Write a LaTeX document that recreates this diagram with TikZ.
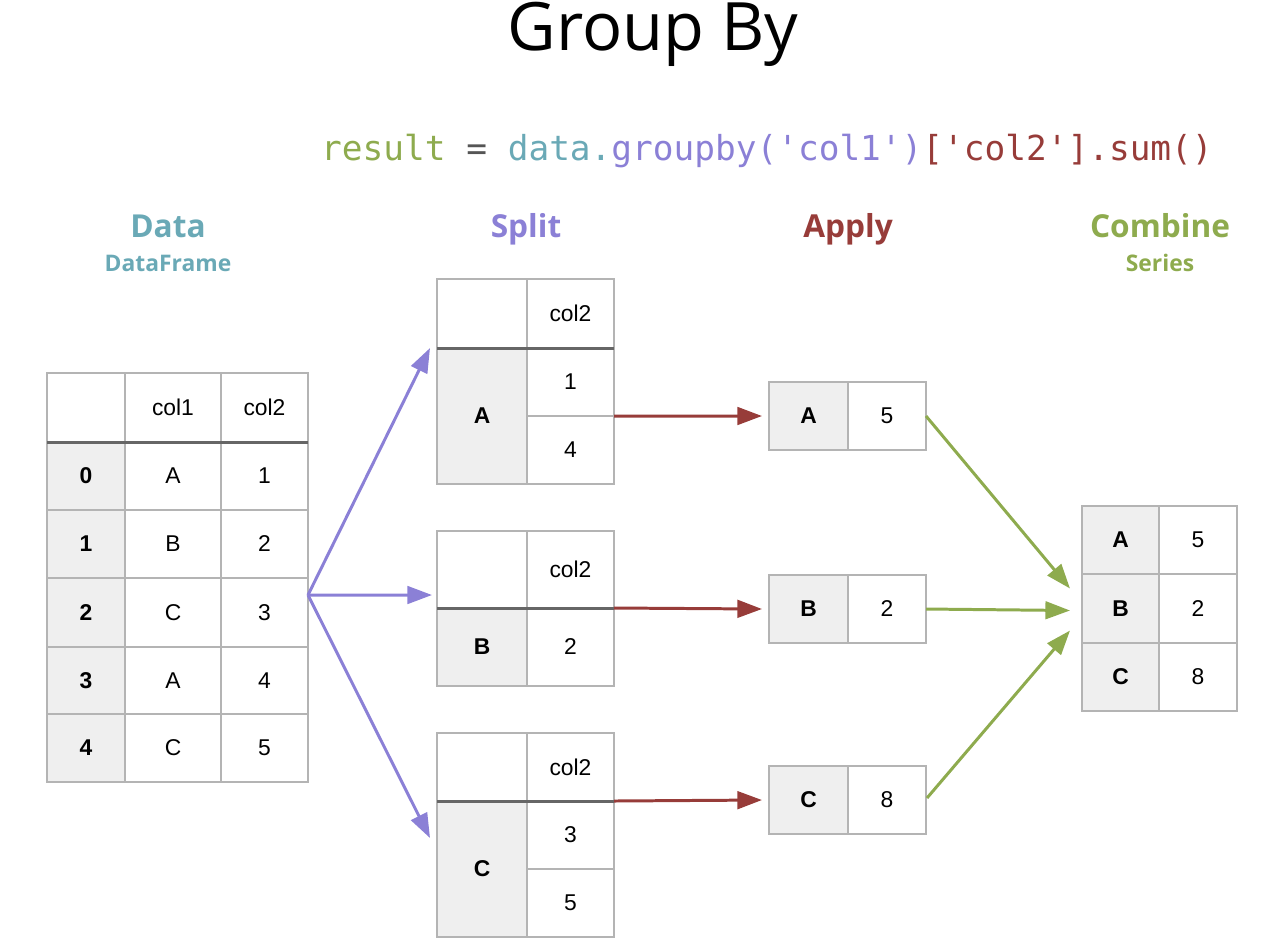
\documentclass[tikz,border=0pt]{standalone}
\usepackage{fontspec}
\setmainfont{Liberation Sans}
\newfontfamily\titlefont{Open Sans}
\newfontfamily\headfont{Open Sans}
\newfontfamily\codefont{DejaVu Sans Mono}
\usetikzlibrary{arrows.meta,calc}

\definecolor{gridgray}{HTML}{B4B4B4}
\definecolor{idxgray}{HTML}{EFEFEF}
\definecolor{rulegray}{HTML}{666666}
\definecolor{cteal}{HTML}{6AA9B6}
\definecolor{cpurple}{HTML}{8B80D6}
\definecolor{cred}{HTML}{973C39}
\definecolor{cgreen}{HTML}{8EAB4E}
\definecolor{ceq}{HTML}{555555}

\tikzset{
  cellbox/.style={draw=gridgray, line width=0.85pt, fill=white, inner sep=0pt,
    outer sep=0pt, text=black, font=\fontsize{13}{15}\selectfont},
  idx/.style={fill=idxgray, font=\fontsize{13}{15}\selectfont\bfseries},
  headrule/.style={draw=rulegray, line width=1.7pt},
  flow/.style={line width=1.7pt, -{Triangle[length=14pt,width=10pt]}},
  heading/.style={anchor=base, font=\headfont\bfseries\fontsize{18}{20}\selectfont},
  subheading/.style={anchor=base, font=\headfont\bfseries\fontsize{13}{15}\selectfont},
}

% \tcell{name}{x1}{y1}{x2}{y2}{style}{text}
\newcommand\tcell[7]{%
  \pgfmathsetmacro\cw{(#4-#2)*0.02}%
  \pgfmathsetmacro\ch{(#5-#3)*0.02}%
  \node[cellbox,#6,minimum width=\cw cm,minimum height=\ch cm] (#1)
    at ({(#2+#4)/2},{(#3+#5)/2}) {#7};}

\begin{document}
\begin{tikzpicture}[x=0.02cm,y=-0.02cm]
\useasboundingbox (0,0) rectangle (1270,948);

% title and code line
\node[anchor=base, font=\titlefont\fontsize{38}{42}\selectfont] (title) at (653,50) {Group By};
\node[anchor=base west, font=\codefont\fontsize{19.6}{24}\selectfont] (code) at (315,160)
  {\textcolor{cgreen}{result} \textcolor{ceq}{=} \textcolor{cteal}{data.}\textcolor{cpurple}{groupby('col1')}\textcolor{cred}{['col2'].sum()}};

% column headings
\node[heading, text=cteal] (hdata) at (168,237) {Data};
\node[subheading, text=cteal] (hdf) at (168,271) {DataFrame};
\node[heading, text=cpurple] (hsplit) at (526,237) {Split};
\node[heading, text=cred] (happly) at (848,237) {Apply};
\node[heading, text=cgreen] (hcomb) at (1160,237) {Combine};
\node[subheading, text=cgreen] (hser) at (1160,271) {Series};

% data frame
\tcell{d-h0}{47}{373}{125}{442}{}{}
\tcell{d-h1}{125}{373}{221}{442}{}{col1}
\tcell{d-h2}{221}{373}{308}{442}{}{col2}
\tcell{d-i0}{47}{442}{125}{510}{idx}{0}
\tcell{d-a0}{125}{442}{221}{510}{}{A}
\tcell{d-b0}{221}{442}{308}{510}{}{1}
\tcell{d-i1}{47}{510}{125}{578}{idx}{1}
\tcell{d-a1}{125}{510}{221}{578}{}{B}
\tcell{d-b1}{221}{510}{308}{578}{}{2}
\tcell{d-i2}{47}{578}{125}{647}{idx}{2}
\tcell{d-a2}{125}{578}{221}{647}{}{C}
\tcell{d-b2}{221}{578}{308}{647}{}{3}
\tcell{d-i3}{47}{647}{125}{714}{idx}{3}
\tcell{d-a3}{125}{647}{221}{714}{}{A}
\tcell{d-b3}{221}{647}{308}{714}{}{4}
\tcell{d-i4}{47}{714}{125}{782}{idx}{4}
\tcell{d-a4}{125}{714}{221}{782}{}{C}
\tcell{d-b4}{221}{714}{308}{782}{}{5}
\draw[headrule] (d-h0.south west) -- (d-h2.south east);

% split groups
\tcell{sA-h0}{437}{279}{527}{348}{}{}
\tcell{sA-h1}{527}{279}{614}{348}{}{col2}
\tcell{sA-i}{437}{348}{527}{484}{idx}{A}
\tcell{sA-v0}{527}{348}{614}{416}{}{1}
\tcell{sA-v1}{527}{416}{614}{484}{}{4}
\draw[headrule] (sA-h0.south west) -- (sA-h1.south east);

\tcell{sB-h0}{437}{531}{527}{608}{}{}
\tcell{sB-h1}{527}{531}{614}{608}{}{col2}
\tcell{sB-i}{437}{608}{527}{686}{idx}{B}
\tcell{sB-v0}{527}{608}{614}{686}{}{2}
\draw[headrule] (sB-h0.south west) -- (sB-h1.south east);

\tcell{sC-h0}{437}{733}{527}{801}{}{}
\tcell{sC-h1}{527}{733}{614}{801}{}{col2}
\tcell{sC-i}{437}{801}{527}{937}{idx}{C}
\tcell{sC-v0}{527}{801}{614}{869}{}{3}
\tcell{sC-v1}{527}{869}{614}{937}{}{5}
\draw[headrule] (sC-h0.south west) -- (sC-h1.south east);

% applied sums
\tcell{apA-k}{769}{382}{848}{450}{idx}{A}
\tcell{apA-v}{848}{382}{926}{450}{}{5}
\tcell{apB-k}{769}{575}{848}{643}{idx}{B}
\tcell{apB-v}{848}{575}{926}{643}{}{2}
\tcell{apC-k}{769}{766}{848}{834}{idx}{C}
\tcell{apC-v}{848}{766}{926}{834}{}{8}

% combined series
\tcell{cb-kA}{1082}{506}{1159}{574}{idx}{A}
\tcell{cb-vA}{1159}{506}{1237}{574}{}{5}
\tcell{cb-kB}{1082}{574}{1159}{643}{idx}{B}
\tcell{cb-vB}{1159}{574}{1237}{643}{}{2}
\tcell{cb-kC}{1082}{643}{1159}{711}{idx}{C}
\tcell{cb-vC}{1159}{643}{1237}{711}{}{8}

% split arrows
\coordinate (src) at (308,595);
\draw[flow, cpurple] (src) -- ($(sA-i.north west)+(-7,0)$);
\draw[flow, cpurple] (src) -- ($(sB-i.north west)+(-5,-13)$);
\draw[flow, cpurple] (src) -- ($(sC-i.north west)+(-7,37)$);

% apply arrows
\draw[flow, cred] (sA-v1.north east) -- ($(apA-k.west)+(-7,0)$);
\draw[flow, cred] (sB-h1.south east) -- ($(apB-k.west)+(-7,0)$);
\draw[flow, cred] (sC-h1.south east) -- ($(apC-k.west)+(-7,0)$);

% combine arrows
\draw[flow, cgreen] (apA-v.east) -- ($(cb-kB.west)+(-12,-20)$);
\draw[flow, cgreen] (apB-v.east) -- ($(cb-kB.west)+(-12,2)$);
\draw[flow, cgreen] ($(apC-v.east)+(1,-2)$) -- ($(cb-kB.west)+(-12,22)$);
\end{tikzpicture}
\end{document}
